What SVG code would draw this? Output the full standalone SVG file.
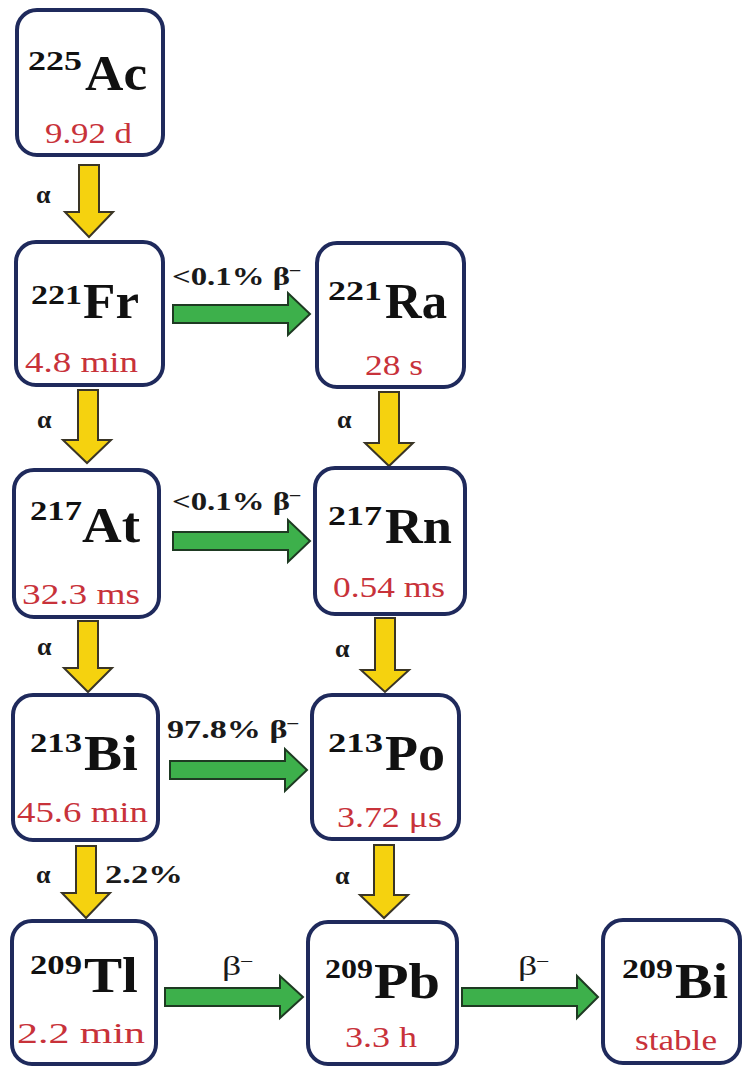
<svg xmlns="http://www.w3.org/2000/svg" width="743" height="1066" viewBox="0 0 743 1066">
  <style>
    text { font-family: "Liberation Serif", Tinos, "Times New Roman", "Nimbus Roman", serif; }
    .box { fill: #ffffff; stroke: #1f2a5c; stroke-width: 4; }
    .sup { font-weight: bold; font-size: 28px; fill: #111111; }
    .sym { font-weight: bold; font-size: 50px; fill: #111111; }
    .hl  { font-size: 30px; fill: #c8323a; }
    .lbl { font-weight: bold; font-size: 26px; fill: #1a1a1a; }
    .beta { font-size: 28px; fill: #1a1a1a; }
    .alpha { fill: #f5d20f; stroke: #3a3526; stroke-width: 2; stroke-linejoin: miter; }
    .betaArrow { fill: #3db04b; stroke: #1e3a22; stroke-width: 2; stroke-linejoin: miter; }
  </style>

  <rect width="743" height="1066" fill="#ffffff"/>

  <!-- decay arrows -->
  <g id="connectors">
    <!-- alpha decays (yellow, downward) -->
    <path class="alpha" d="M79,165 H99 V212 H113 L89,237 L65,212 H79 Z"/>
    <path class="alpha" d="M78,390 H98 V440 H111 L87,463 L63,440 H78 Z"/>
    <path class="alpha" d="M78,621 H98 V668 H112 L88,692 L64,668 H78 Z"/>
    <path class="alpha" d="M76,846 H96 V893 H110 L86,918 L62,893 H76 Z"/>
    <path class="alpha" d="M379,392 H399 V443 H413 L389,466 L365,443 H379 Z"/>
    <path class="alpha" d="M375,618 H395 V670 H409 L385,692 L361,670 H375 Z"/>
    <path class="alpha" d="M374,845 H394 V895 H408 L384,918 L360,895 H374 Z"/>

    <!-- beta-minus decays (green, rightward) -->
    <path class="betaArrow" d="M173,305 V323 H288 V335 L310,314 L288,293 V305 Z"/>
    <path class="betaArrow" d="M173,532 V550 H288 V562 L310,541 L288,520 V532 Z"/>
    <path class="betaArrow" d="M170,761 V779 H285 V791 L307,770 L285,749 V761 Z"/>
    <path class="betaArrow" d="M165,988 V1006 H280 V1018 L303,997 L280,976 V988 Z"/>
    <path class="betaArrow" d="M462,988 V1006 H577 V1018 L598,997 L577,976 V988 Z"/>

    <!-- decay labels -->
    <text class="lbl" x="36" y="203">α</text>
    <text class="lbl" x="37" y="428">α</text>
    <text class="lbl" x="37" y="655">α</text>
    <text class="lbl" x="36" y="883">α</text>
    <text class="lbl" x="105" y="883" textLength="78" lengthAdjust="spacingAndGlyphs">2.2%</text>
    <text class="lbl" x="337" y="428">α</text>
    <text class="lbl" x="335" y="657">α</text>
    <text class="lbl" x="335" y="884">α</text>

    <text class="lbl" x="172" y="285" textLength="128" lengthAdjust="spacingAndGlyphs">&lt;0.1% β<tspan dy="-10" font-size="16">–</tspan></text>
    <text class="lbl" x="172" y="510" textLength="128" lengthAdjust="spacingAndGlyphs">&lt;0.1% β<tspan dy="-10" font-size="16">–</tspan></text>
    <text class="lbl" x="167" y="738" textLength="131" lengthAdjust="spacingAndGlyphs">97.8% β<tspan dy="-10" font-size="16">–</tspan></text>
    <text class="beta" x="222" y="975" textLength="30" lengthAdjust="spacingAndGlyphs">β<tspan dy="-10" font-size="16">–</tspan></text>
    <text class="beta" x="518" y="975" textLength="30" lengthAdjust="spacingAndGlyphs">β<tspan dy="-10" font-size="16">–</tspan></text>
  </g>

  <!-- nuclides -->
  <g id="ac225">
    <rect class="box" x="17" y="10" width="146" height="145" rx="20"/>
    <text class="sup" x="28" y="70" textLength="54" lengthAdjust="spacingAndGlyphs">225</text>
    <text class="sym" x="85" y="90" textLength="62" lengthAdjust="spacingAndGlyphs">Ac</text>
    <text class="hl" x="45" y="143" textLength="87" lengthAdjust="spacingAndGlyphs">9.92 d</text>
  </g>

  <g id="fr221">
    <rect class="box" x="16" y="242" width="147" height="143" rx="20"/>
    <text class="sup" x="31" y="304" textLength="51" lengthAdjust="spacingAndGlyphs">221</text>
    <text class="sym" x="83" y="318" textLength="56" lengthAdjust="spacingAndGlyphs">Fr</text>
    <text class="hl" x="25" y="372" textLength="113" lengthAdjust="spacingAndGlyphs">4.8 min</text>
  </g>

  <g id="at217">
    <rect class="box" x="14" y="470" width="145" height="147" rx="20"/>
    <text class="sup" x="30" y="520" textLength="52" lengthAdjust="spacingAndGlyphs">217</text>
    <text class="sym" x="82" y="542" textLength="58" lengthAdjust="spacingAndGlyphs">At</text>
    <text class="hl" x="22" y="604" textLength="118" lengthAdjust="spacingAndGlyphs">32.3 ms</text>
  </g>

  <g id="bi213">
    <rect class="box" x="13" y="695" width="145" height="145" rx="20"/>
    <text class="sup" x="30" y="752" textLength="52" lengthAdjust="spacingAndGlyphs">213</text>
    <text class="sym" x="84" y="770" textLength="54" lengthAdjust="spacingAndGlyphs">Bi</text>
    <text class="hl" x="17" y="822" textLength="131" lengthAdjust="spacingAndGlyphs">45.6 min</text>
  </g>

  <g id="tl209">
    <rect class="box" x="12" y="921" width="144" height="143" rx="20"/>
    <text class="sup" x="30" y="974" textLength="52" lengthAdjust="spacingAndGlyphs">209</text>
    <text class="sym" x="84" y="992" textLength="54" lengthAdjust="spacingAndGlyphs">Tl</text>
    <text class="hl" x="17" y="1043" textLength="128" lengthAdjust="spacingAndGlyphs">2.2  min</text>
  </g>

  <g id="ra221">
    <rect class="box" x="317" y="243" width="147" height="144" rx="20"/>
    <text class="sup" x="328" y="300" textLength="54" lengthAdjust="spacingAndGlyphs">221</text>
    <text class="sym" x="385" y="318" textLength="62" lengthAdjust="spacingAndGlyphs">Ra</text>
    <text class="hl" x="365" y="375" textLength="58" lengthAdjust="spacingAndGlyphs">28 s</text>
  </g>

  <g id="rn217">
    <rect class="box" x="315" y="468" width="150" height="146" rx="20"/>
    <text class="sup" x="328" y="525" textLength="54" lengthAdjust="spacingAndGlyphs">217</text>
    <text class="sym" x="385" y="543" textLength="67" lengthAdjust="spacingAndGlyphs">Rn</text>
    <text class="hl" x="333" y="597" textLength="112" lengthAdjust="spacingAndGlyphs">0.54 ms</text>
  </g>

  <g id="po213">
    <rect class="box" x="312" y="695" width="147" height="144" rx="20"/>
    <text class="sup" x="328" y="752" textLength="55" lengthAdjust="spacingAndGlyphs">213</text>
    <text class="sym" x="385" y="770" textLength="60" lengthAdjust="spacingAndGlyphs">Po</text>
    <text class="hl" x="337" y="827" textLength="105" lengthAdjust="spacingAndGlyphs">3.72 μs</text>
  </g>

  <g id="pb209">
    <rect class="box" x="308" y="922" width="149" height="142" rx="20"/>
    <text class="sup" x="325" y="978" textLength="48" lengthAdjust="spacingAndGlyphs">209</text>
    <text class="sym" x="374" y="998" textLength="66" lengthAdjust="spacingAndGlyphs">Pb</text>
    <text class="hl" x="345" y="1047" textLength="72" lengthAdjust="spacingAndGlyphs">3.3 h</text>
  </g>

  <g id="bi209">
    <rect class="box" x="603" y="920" width="137" height="143" rx="20"/>
    <text class="sup" x="622" y="978" textLength="51" lengthAdjust="spacingAndGlyphs">209</text>
    <text class="sym" x="675" y="998" textLength="53" lengthAdjust="spacingAndGlyphs">Bi</text>
    <text class="hl" x="635" y="1050" textLength="82" lengthAdjust="spacingAndGlyphs">stable</text>
  </g>
</svg>
